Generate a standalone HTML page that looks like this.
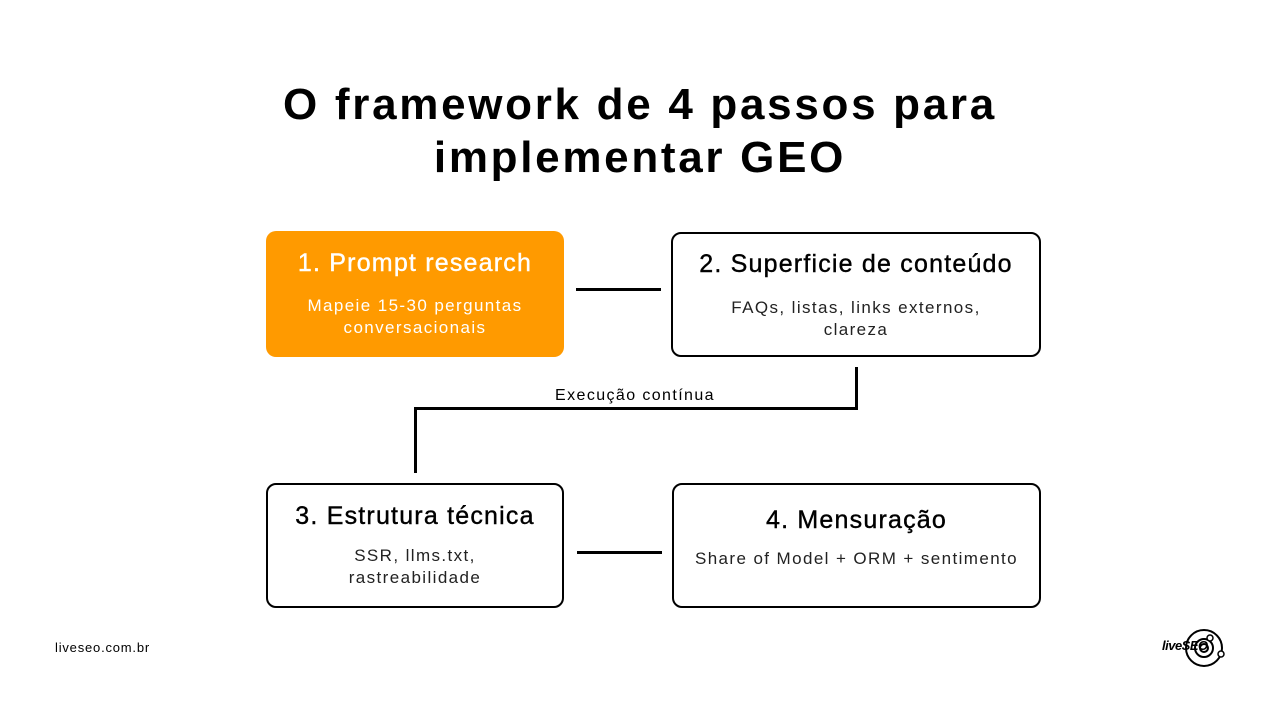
<!DOCTYPE html>
<html><head><meta charset="utf-8"><style>
body{margin:0;width:1280px;height:720px;background:#fff;font-family:"Liberation Sans",sans-serif;position:relative;overflow:hidden;color:#000}
.t{position:absolute;left:0;width:1280px;text-align:center;font-weight:bold;font-size:44px;line-height:53px;letter-spacing:2.7px}
.b{position:absolute;box-sizing:border-box;border:2px solid #000;border-radius:10px;text-align:center}
.h{font-size:25px;line-height:30px;letter-spacing:1.2px;-webkit-text-stroke:0.4px currentColor}
.s{font-size:17px;line-height:22px;color:#222;letter-spacing:1.4px}
.ln{position:absolute;background:#000}
</style></head><body>
<div class="t" style="top:78px">O framework de 4 passos para</div>
<div class="t" style="top:131px">implementar GEO</div>

<div class="b" style="left:266px;top:231px;width:298px;height:126px;background:#FF9A00;border:none;color:#fff">
<div class="h" style="margin-top:17px;color:#fff">1. Prompt research</div>
<div class="s" style="margin-top:17px;color:#fff">Mapeie 15-30 perguntas<br>conversacionais</div></div>

<div class="b" style="left:671px;top:232px;width:370px;height:125px">
<div class="h" style="margin-top:15px">2. Superficie de conteúdo</div>
<div class="s" style="margin-top:18px">FAQs, listas, links externos,<br>clareza</div></div>

<div class="b" style="left:266px;top:483px;width:298px;height:125px">
<div class="h" style="margin-top:16px">3. Estrutura técnica</div>
<div class="s" style="margin-top:14px">SSR, llms.txt,<br>rastreabilidade</div></div>

<div class="b" style="left:672px;top:483px;width:369px;height:125px">
<div class="h" style="margin-top:20px">4. Mensuração</div>
<div class="s" style="margin-top:13px">Share of Model + ORM + sentimento</div></div>

<div class="ln" style="left:576px;top:288px;width:85px;height:3px"></div>
<div class="ln" style="left:577px;top:551px;width:85px;height:3px"></div>
<div class="ln" style="left:855px;top:367px;width:3px;height:43px"></div>
<div class="ln" style="left:414px;top:407px;width:444px;height:3px"></div>
<div class="ln" style="left:414px;top:407px;width:3px;height:66px"></div>
<div style="position:absolute;left:525px;top:387px;width:220px;text-align:center;font-size:16px;letter-spacing:1.4px">Execução contínua</div>

<div style="position:absolute;left:55px;top:640px;font-size:13px;letter-spacing:0.8px">liveseo.com.br</div>
<div style="position:absolute;left:1162px;top:638px;font-size:13px;font-weight:bold;font-style:italic;letter-spacing:-0.5px">liveSEO</div>
<svg style="position:absolute;left:1180px;top:626px" width="50" height="44"><circle cx="24" cy="22" r="18" fill="none" stroke="#000" stroke-width="2"/><circle cx="24" cy="22" r="9" fill="none" stroke="#000" stroke-width="2"/><circle cx="24" cy="22" r="4" fill="none" stroke="#000" stroke-width="2"/><circle cx="30" cy="12" r="3" fill="#fff" stroke="#000" stroke-width="1.5"/><circle cx="41" cy="28" r="3" fill="#fff" stroke="#000" stroke-width="1.5"/></svg>
</body></html>
